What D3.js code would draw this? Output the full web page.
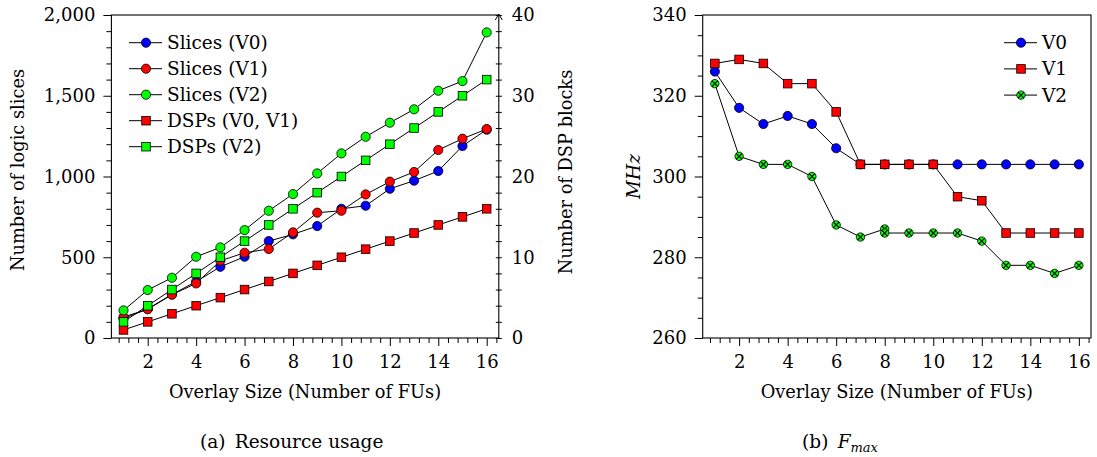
<!DOCTYPE html>
<html lang="en">
    <head>
        <meta charset="UTF-8" />
        <title>Overlay resource usage and Fmax</title>
        <style>
            body {
                margin: 0;
                background: white;
            }
            svg {
                display: block;
            }
            svg text {
                font-family: "DejaVu Serif", "Liberation Serif", serif;
                fill: black;
            }
            .tickText {
                font-size: 18px;
            }
            .label {
                font-size: 18.5px;
            }
            .axisTitle {
                font-size: 17.8px;
            }
            .link {
                fill: none;
                stroke: black;
                stroke-width: 1px;
            }
            .mark {
                stroke: black;
                stroke-width: 0.8px;
            }
            .frame {
                fill: none;
                stroke: black;
                stroke-width: 1.1px;
            }
        </style>
    </head>
    <body>
        <script src="https://cdnjs.cloudflare.com/ajax/libs/d3/7.9.0/d3.min.js"></script>
        <svg width="1097" height="457"></svg>
        <script>
            // data
            const fus = [1, 2, 3, 4, 5, 6, 7, 8, 9, 10, 11, 12, 13, 14, 15, 16];
            const slicesV0 = [120, 180, 270, 349, 441, 503, 600, 642, 693, 800, 819, 924, 974, 1034, 1189, 1290];
            const slicesV1 = [130, 178, 268, 338, 478, 528, 551, 654, 776, 788, 889, 968, 1028, 1164, 1234, 1294];
            const slicesV2 = [171, 297, 373, 503, 561, 668, 788, 891, 1019, 1143, 1246, 1333, 1416, 1531, 1591, 1892];
            const dspsV01 = [1, 2, 3, 4, 5, 6, 7, 8, 9, 10, 11, 12, 13, 14, 15, 16];
            const dspsV2 = [2, 4, 6, 8, 10, 12, 14, 16, 18, 20, 22, 24, 26, 28, 30, 32];

            const fmaxV0 = [326, 317, 313, 315, 313, 307, 303, 303, 303, 303, 303, 303, 303, 303, 303, 303];
            const fmaxV1 = [328, 329, 328, 323, 323, 316, 303, 303, 303, 303, 295, 294, 286, 286, 286, 286];
            // V2 has two points at 8
            const fusV2 = [1, 2, 3, 4, 5, 6, 7, 8, 8, 9, 10, 11, 12, 13, 14, 15, 16];
            const fmaxV2 = [323, 305, 303, 303, 300, 288, 285, 287, 286, 286, 286, 286, 284, 278, 278, 276, 278];

            const xTicks = [2, 4, 6, 8, 10, 12, 14, 16];
            const slicesTicks = [0, 500, 1000, 1500, 2000];
            const dspTicks = [0, 10, 20, 30, 40];
            const fmaxTicks = [260, 280, 300, 320, 340];

            const legendA = ["Slices (V0)", "Slices (V1)", "Slices (V2)", "DSPs (V0, V1)", "DSPs (V2)"];
            const legendB = ["V0", "V1", "V2"];
        </script>
        <script>
            const svg = d3.select("svg");
            const plotTop = 15,
                plotBottom = 338;
            const minorX = d3.range(0.8, 16.5, 0.4).filter((v) => Math.abs(v / 2 - Math.round(v / 2)) > 0.01);

            const drawMark = (g, kind, color, cx, cy) => {
                if (kind === "circle") {
                    g.append("circle").attr("class", "mark").attr("cx", cx).attr("cy", cy).attr("r", 4.6).attr("fill", color);
                } else if (kind === "square") {
                    g.append("rect").attr("class", "mark").attr("x", cx - 4.3).attr("y", cy - 4.3).attr("width", 8.6).attr("height", 8.6).attr("fill", color);
                } else {
                    // circle with a cross
                    const r = 4.2,
                        k = r * 0.72;
                    g.append("circle").attr("class", "mark").attr("cx", cx).attr("cy", cy).attr("r", r).attr("fill", color);
                    g.append("path")
                        .attr("d", `M${cx - k},${cy - k}L${cx + k},${cy + k}M${cx - k},${cy + k}L${cx + k},${cy - k}`)
                        .attr("stroke", "black")
                        .attr("stroke-width", 1.1);
                }
            };

            const drawSeries = (g, x, y, xs, ys, kind, color) => {
                const pts = xs.map((v, i) => [x(v), y(ys[i])]);
                g.append("path").attr("class", "link").attr("d", d3.line()(pts));
                pts.forEach((p) => drawMark(g, kind, color, p[0], p[1]));
            };

            const styleAxis = (a) => {
                a.attr("font-family", null).attr("font-size", null);
                a.select(".domain").remove();
                a.selectAll("text").attr("class", "tickText").attr("fill", null);
                a.selectAll("line").attr("stroke", "black").attr("stroke-width", 1);
            };

            const bottomAxis = (x) => {
                svg.append("g")
                    .attr("transform", `translate(0,${plotBottom})`)
                    .call(d3.axisBottom(x).tickValues(xTicks).tickSize(8).tickPadding(9))
                    .call(styleAxis);
                svg.append("g")
                    .attr("transform", `translate(0,${plotBottom})`)
                    .call(d3.axisBottom(x).tickValues(minorX).tickSize(5).tickFormat(""))
                    .call(styleAxis);
            };

            // ---- (a) Resource usage ----
            const xa = d3.scaleLinear().domain([0.5, 16.5]).range([111.4, 498.8]);
            const ySlices = d3.scaleLinear().domain([0, 2000]).range([plotBottom, plotTop]);
            const yDsp = d3.scaleLinear().domain([0, 40]).range([plotBottom, plotTop]);

            svg.append("g")
                .attr("transform", `translate(${xa.range()[0]},0)`)
                .call(d3.axisLeft(ySlices).tickValues(slicesTicks).tickSize(8).tickPadding(8).tickFormat(d3.format(",")))
                .call(styleAxis);
            svg.append("g")
                .attr("transform", `translate(${xa.range()[0]},0)`)
                .call(d3.axisLeft(ySlices).tickValues(d3.range(100, 2000, 100).filter((v) => v % 500)).tickSize(5).tickFormat(""))
                .call(styleAxis);
            const ra = svg
                .append("g")
                .attr("transform", `translate(${xa.range()[1]},0)`)
                .call(d3.axisRight(yDsp).tickValues(dspTicks).tickSize(3).tickPadding(10))
                .call(styleAxis);
            ra.selectAll("line").attr("x1", -3);
            const ram = svg
                .append("g")
                .attr("transform", `translate(${xa.range()[1]},0)`)
                .call(d3.axisRight(yDsp).tickValues(d3.range(2, 40, 2).filter((v) => v % 10)).tickSize(3).tickFormat(""))
                .call(styleAxis);
            ram.selectAll("line").attr("x1", -3);
            bottomAxis(xa);

            svg.append("rect")
                .attr("class", "frame")
                .attr("x", xa.range()[0])
                .attr("y", plotTop)
                .attr("width", xa.range()[1] - xa.range()[0])
                .attr("height", plotBottom - plotTop);
            const ax = xa.range()[1];
            svg.append("path").attr("class", "link").attr("d", `M${ax - 3.5},${plotTop + 5}L${ax},${plotTop - 1}L${ax + 3.5},${plotTop + 5}`);

            const ga = svg.append("g");
            drawSeries(ga, xa, ySlices, fus, slicesV0, "circle", "#0000ff");
            drawSeries(ga, xa, ySlices, fus, slicesV1, "circle", "#ff0000");
            drawSeries(ga, xa, ySlices, fus, slicesV2, "circle", "#00ff00");
            drawSeries(ga, xa, yDsp, fus, dspsV01, "square", "#ff0000");
            drawSeries(ga, xa, yDsp, fus, dspsV2, "square", "#00ff00");

            const legA = [
                ["circle", "#0000ff"],
                ["circle", "#ff0000"],
                ["circle", "#00ff00"],
                ["square", "#ff0000"],
                ["square", "#00ff00"],
            ];
            legendA.forEach((name, i) => {
                const ly = 42.7 + i * 26;
                ga.append("path").attr("class", "link").attr("d", `M129,${ly}H162`);
                drawMark(ga, legA[i][0], legA[i][1], 146, ly);
                ga.append("text").attr("class", "label").attr("x", 167).attr("y", ly).attr("dy", "0.35em").text(name);
            });

            svg.append("text")
                .attr("class", "label axisTitle")
                .attr("transform", "translate(24,170) rotate(-90)")
                .attr("text-anchor", "middle")
                .text("Number of logic slices");
            svg.append("text")
                .attr("class", "label axisTitle")
                .attr("transform", "translate(572,172) rotate(-90)")
                .attr("text-anchor", "middle")
                .text("Number of DSP blocks");
            svg.append("text").attr("class", "label axisTitle").attr("x", 305).attr("y", 398).attr("text-anchor", "middle").text("Overlay Size (Number of FUs)");
            svg.append("text").attr("class", "label").attr("x", 291.7).attr("y", 448).attr("text-anchor", "middle").text("(a)\u2002Resource usage");

            // ---- (b) Fmax ----
            const xb = d3.scaleLinear().domain([0.5, 16.5]).range([702.7, 1091]);
            const yb = d3.scaleLinear().domain([260, 340]).range([plotBottom, plotTop]);

            svg.append("g")
                .attr("transform", `translate(${xb.range()[0]},0)`)
                .call(d3.axisLeft(yb).tickValues(fmaxTicks).tickSize(8).tickPadding(8))
                .call(styleAxis);
            svg.append("g")
                .attr("transform", `translate(${xb.range()[0]},0)`)
                .call(d3.axisLeft(yb).tickValues(d3.range(265, 340, 5).filter((v) => v % 20)).tickSize(5).tickFormat(""))
                .call(styleAxis);
            bottomAxis(xb);
            svg.append("rect")
                .attr("class", "frame")
                .attr("x", xb.range()[0])
                .attr("y", plotTop)
                .attr("width", xb.range()[1] - xb.range()[0])
                .attr("height", plotBottom - plotTop);

            const gb = svg.append("g");
            drawSeries(gb, xb, yb, fus, fmaxV0, "circle", "#0000ff");
            drawSeries(gb, xb, yb, fus, fmaxV1, "square", "#ff0000");
            drawSeries(gb, xb, yb, fusV2, fmaxV2, "cross", "#00ff00");

            const legB = [
                ["circle", "#0000ff"],
                ["square", "#ff0000"],
                ["cross", "#00ff00"],
            ];
            legendB.forEach((name, i) => {
                const ly = 42.7 + i * 26.2;
                gb.append("path").attr("class", "link").attr("d", `M1004,${ly}H1037`);
                drawMark(gb, legB[i][0], legB[i][1], 1021, ly);
                gb.append("text").attr("class", "label").attr("x", 1042).attr("y", ly).attr("dy", "0.35em").text(name);
            });

            svg.append("text")
                .attr("class", "label")
                .attr("transform", "translate(640,176.5) rotate(-90)")
                .attr("text-anchor", "middle")
                .style("font-style", "italic")
                .text("MHz");
            svg.append("text").attr("class", "label axisTitle").attr("x", 896.8).attr("y", 398).attr("text-anchor", "middle").text("Overlay Size (Number of FUs)");
            const cap = svg.append("text").attr("class", "label").attr("x", 840).attr("y", 448).attr("text-anchor", "middle");
            cap.append("tspan").text("(b)\u2002");
            cap.append("tspan").style("font-style", "italic").text("F");
            cap.append("tspan").style("font-style", "italic").style("font-size", "13px").attr("dy", 4).text("max");
        </script>
    </body>
</html>
